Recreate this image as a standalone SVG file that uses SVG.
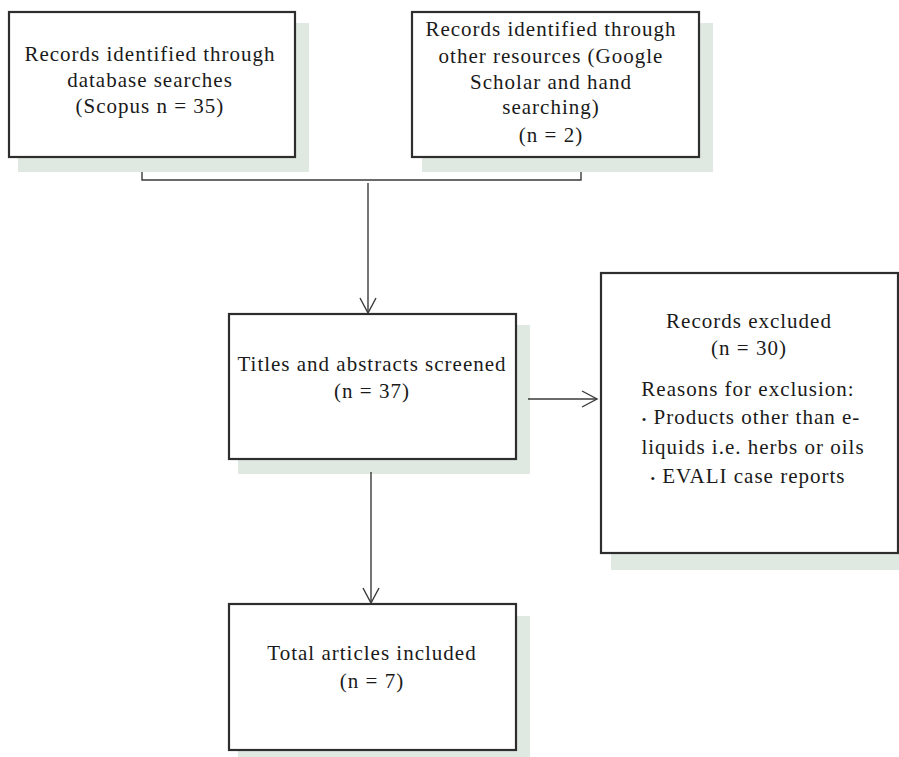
<svg xmlns="http://www.w3.org/2000/svg" width="899" height="757" viewBox="0 0 899 757">
<style>
.bg{fill:#ffffff}
.shadow{fill:#dfe8e1;stroke:none}
.box{fill:#ffffff;stroke:#2e2e2e;stroke-width:2.2}
.t{fill:#1a1a1a;text-anchor:middle}
.b{font-size:13px}
.conn{fill:none;stroke:#3a3a3a;stroke-width:1.4}
</style>
<defs>
<marker id="arr" markerWidth="20" markerHeight="20" refX="16" refY="9" orient="auto" markerUnits="userSpaceOnUse">
<path d="M1,1 L16,9 L1,17" fill="none" stroke="#3a3a3a" stroke-width="1.4"/>
</marker>
</defs>
<rect class="bg" x="0" y="0" width="899" height="757"/>
<g font-family="Liberation Serif, Times New Roman, serif" font-size="21" letter-spacing="1">
<g id="node-database">
<rect class="shadow" x="18" y="23" width="291" height="149"/>
<rect class="box" x="9" y="12" width="286" height="145"/>
<text class="t" x="150" y="61">Records identified through</text>
<text class="t" x="150" y="87">database searches</text>
<text class="t" x="150" y="113">(Scopus n = 35)</text>
</g>
<g id="node-other">
<rect class="shadow" x="422" y="23" width="291" height="149"/>
<rect class="box" x="412" y="12" width="287" height="145"/>
<text class="t" x="551" y="36">Records identified through</text>
<text class="t" x="551" y="63">other resources (Google</text>
<text class="t" x="551" y="89">Scholar and hand</text>
<text class="t" x="551" y="114">searching)</text>
<text class="t" x="551" y="142">(n = 2)</text>
</g>
<g id="node-screened">
<rect class="shadow" x="238" y="325" width="292" height="149"/>
<rect class="box" x="229" y="314" width="287" height="145"/>
<text class="t" x="372" y="371">Titles and abstracts screened</text>
<text class="t" x="372" y="398">(n = 37)</text>
</g>
<g id="node-excluded">
<rect class="shadow" x="611" y="284" width="300" height="286"/>
<rect class="box" x="601" y="273" width="297" height="280"/>
<text class="t" x="749" y="328">Records excluded</text>
<text class="t" x="749" y="355">(n = 30)</text>
<text class="t" x="748" y="396">Reasons for exclusion:</text>
<text class="t" x="751" y="424"><tspan class="b">•</tspan> Products other than e-</text>
<text class="t" x="753" y="454">liquids i.e. herbs or oils</text>
<text class="t" x="748" y="483"><tspan class="b">•</tspan> EVALI case reports</text>
</g>
<g id="node-included">
<rect class="shadow" x="238" y="616" width="292" height="150"/>
<rect class="box" x="229" y="604" width="287" height="146"/>
<text class="t" x="372" y="660">Total articles included</text>
<text class="t" x="372" y="688">(n = 7)</text>
</g>
</g>
<g id="connectors">
<path class="conn" d="M142,172 V180 H581 V172"/>
<path class="conn" d="M368,183 V313" marker-end="url(#arr)"/>
<path class="conn" d="M528,399 H597" marker-end="url(#arr)"/>
<path class="conn" d="M371,472 V603" marker-end="url(#arr)"/>
</g>
</svg>
